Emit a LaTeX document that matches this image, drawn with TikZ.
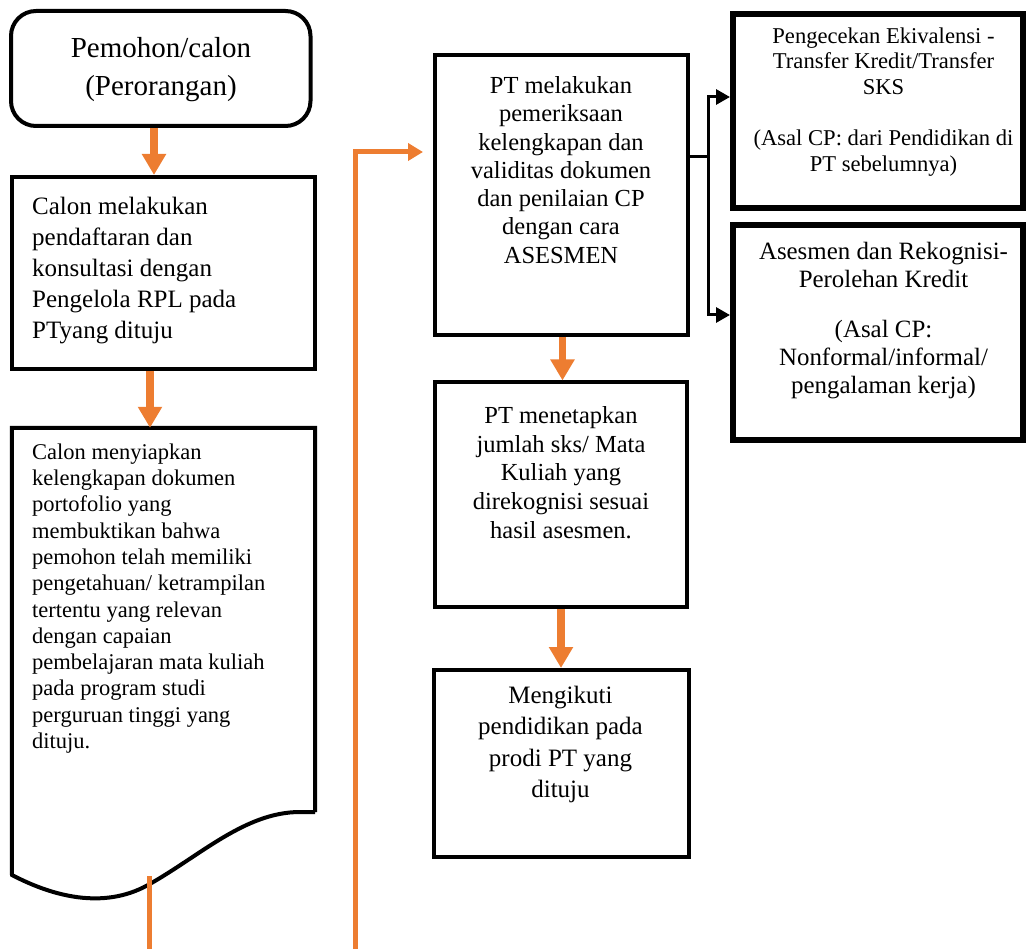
\documentclass[tikz,border=0pt]{standalone}
\usepackage{fontspec}
\setmainfont{Liberation Serif}
\usetikzlibrary{arrows.meta,fit}
\definecolor{orng}{HTML}{ED7D31}
\tikzset{
  box/.style={draw=black, line width=4pt, inner sep=0pt, fill=none},
  boxthick/.style={draw=black, line width=6pt, inner sep=0pt},
  txt/.style={inner sep=0pt, align=center},
  txtl/.style={inner sep=0pt, align=left, anchor=west},
  oarrow/.style={draw=orng, line width=7.5pt, -{Triangle[width=23pt,length=21pt]}},
  oline/.style={draw=orng, line width=5pt},
  oarrowthin/.style={draw=orng, line width=5pt, -{Triangle[width=17pt,length=15pt]}},
  barrow/.style={draw=black, line width=3pt, -{Triangle[width=15pt,length=14pt]}},
}
\begin{document}
\begin{tikzpicture}[x=1pt,y=-1pt]
\useasboundingbox (0,0) rectangle (1026,949);
% boxes
\node[box, rounded corners=25pt, fit={(11,11) (310.5,126)}] (b1) {};
\node[box, fit={(12,177) (315,369.5)}] (b2) {};
\node[inner sep=0pt, fit={(12,428) (315,812)}] (doc) {};
\draw[line width=4pt, line join=miter] (doc.south east) -- (doc.north east) -- (doc.north west) -- (12,875)
  .. controls (52,896) and (103,910) .. (148,885)
  .. controls (200,856) and (245,812) .. (300,812) -- (doc.south east);
\node[box, fit={(435,55) (688,335)}] (b4) {};
\node[box, fit={(435,382.5) (687,607)}] (b5) {};
\node[box, fit={(433.5,670) (689,857)}] (b6) {};
\node[boxthick, fit={(733,14) (1023,208)}] (b7) {};
\node[boxthick, fit={(733,225.5) (1023,440)}] (b8) {};
% texts
\node[txt, font=\fontsize{29}{38}\selectfont] (t1) at (161,70) {Pemohon/calon\\(Perorangan)};
\node[txtl, font=\fontsize{25}{31}\selectfont] (t2) at (32,271) {Calon melakukan\\pendaftaran dan\\konsultasi dengan\\Pengelola RPL pada\\PTyang dituju};
\node[txtl, font=\fontsize{22.5}{26.3}\selectfont] (t3) at (32,598.5) {Calon menyiapkan\\kelengkapan dokumen\\portofolio yang\\membuktikan bahwa\\pemohon telah memiliki\\pengetahuan/ ketrampilan\\tertentu yang relevan\\dengan capaian\\pembelajaran mata kuliah\\pada program studi\\perguruan tinggi yang\\dituju.};
\node[txt, font=\fontsize{24.5}{28.3}\selectfont] (t4) at (561,170) {PT melakukan\\pemeriksaan\\kelengkapan dan\\validitas dokumen\\dan penilaian CP\\dengan cara\\ASESMEN};
\node[txt, font=\fontsize{24.5}{28.7}\selectfont] (t5) at (561,472.5) {PT menetapkan\\jumlah sks/ Mata\\Kuliah yang\\direkognisi sesuai\\hasil asesmen.};
\node[txt, font=\fontsize{25}{31.3}\selectfont] (t6) at (560.5,744.5) {Mengikuti\\pendidikan pada\\prodi PT yang\\dituju};
\node[txt, font=\fontsize{22.6}{25.5}\selectfont] (t7) at (883.5,102) {Pengecekan Ekivalensi -\\Transfer Kredit/Transfer\\SKS\\[26pt](Asal CP: dari Pendidikan di\\PT sebelumnya)};
\node[txt, font=\fontsize{24.9}{28}\selectfont] (t8) at (883.5,320.5) {Asesmen dan Rekognisi-\\Perolehan Kredit\\[22pt](Asal CP:\\Nonformal/informal/\\pengalaman kerja)};
% helper coordinates
\coordinate (xa) at (154,0);
\coordinate (xb) at (150,0);
\coordinate (xc) at (562.5,0);
\coordinate (xd) at (561,0);
\coordinate (o1s) at (149,876);
\coordinate (o1e) at (149,949);
\coordinate (o2s) at (355.5,949);
\coordinate (o2e) at (423,152);
\coordinate (jx) at (708,157);
\coordinate (c7) at (0,97);
\coordinate (c8) at (0,315);
% orange connectors
\draw[oarrow] (b1.south -| xa) -- (b2.north -| xa);
\draw[oarrow] (b2.south -| xb) -- (doc.north -| xb);
\draw[oarrow] (b4.south -| xc) -- (b5.north -| xc);
\draw[oarrow] (b5.south -| xd) -- (b6.north -| xd);
\draw[oline] (o1s) -- (o1e);
\draw[oarrowthin] (o2s) |- (o2e);
% black connectors
\draw[barrow] (b4.east |- jx) -| (jx |- c7) -- (b7.west |- c7);
\draw[barrow] (jx) |- (b8.west |- c8);
\end{tikzpicture}
\end{document}
